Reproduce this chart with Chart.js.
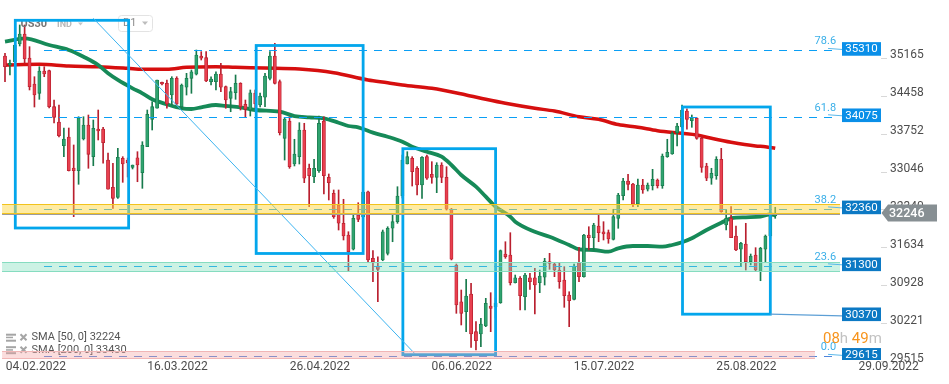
<!DOCTYPE html>
<html>
<head>
<meta charset="utf-8">
<title>US30 D1</title>
<script src="https://cdn.jsdelivr.net/npm/chart.js@4.4.0/dist/chart.umd.min.js"></script>
<style>
  html, body { margin: 0; padding: 0; background: #fff; }
  #wrap { width: 949px; height: 384px; }
</style>
</head>
<body>
<div id="wrap"><canvas id="chart" width="949" height="384"></canvas></div>
<script>
// daily candles of US30, oldest first
const opens = [35206,35039,35095,35430,35616,35169,34685,34512,34927,34933,34263,33978,33537,33699,33121,33071,33661,33922,33332,33847,33847,33270,32762,32576,33302,33270,33134,33313,33034,33518,34028,34233,34717,34698,34480,34791,34263,34624,34791,34866,35206,35175,34728,34728,34871,34635,34419,34523,34698,34307,34201,34518,34294,34438,34791,35206,34728,33674,33996,33196,33332,33829,33116,32959,33071,33996,32948,32650,32433,32092,31874,31608,32246,32209,32680,31440,31297,31409,31533,31999,32122,32600,33196,33302,33116,32805,33332,33004,32948,33177,32948,32353,31316,30632,30446,30776,30074,30031,30180,30552,30534,30614,31520,31502,30986,31068,30725,31079,31079,30986,31087,31377,31334,31222,31036,30757,30677,31358,31098,31874,31824,32042,31935,31917,31794,32185,32606,32879,32824,32451,32805,32725,32792,32898,32792,33332,33382,33779,33885,34182,34002,34047,33674,33159,32930,32978,33283,32060,32185,31855,31608,31706,31377,31502,31191,31608,31855,32228];
const highs = [35257,35132,35467,35784,35784,35380,34821,35007,35007,34946,34387,34294,33866,33866,33550,34076,34076,34108,34015,34201,33879,33401,33209,33488,33332,33307,33177,33425,33611,34201,34356,34760,34722,34760,34821,34821,34685,34884,34946,35318,35287,35287,34821,34914,35071,34648,34624,34853,34709,34387,34574,34574,34518,34884,35287,35443,34760,34065,34076,33656,33965,33954,33196,33283,34089,34076,33010,32712,32712,32539,31935,32278,32475,32712,32693,31582,31470,31967,32028,32246,32773,33363,33425,33332,33146,33332,33363,33239,33220,33220,33146,32371,31334,30850,31049,30975,30260,30323,30695,30800,30701,31595,31749,31917,31129,31098,31161,31161,31254,31222,31440,31533,31358,31347,31284,30818,31334,31645,31887,32028,32092,32246,32122,31967,32353,32650,32930,33004,32837,32917,32911,32842,33097,32917,33382,33656,33797,33954,34294,34225,34108,34058,33704,33209,33116,33332,33488,32339,32401,32042,31738,32092,31520,31638,31645,31874,32302,32390];
const lows = [34728,34853,35020,35393,35076,34574,34257,34400,34821,34238,33959,33699,33332,33066,32215,32818,33643,33116,33164,33643,33209,32725,32371,32557,32855,32954,33103,32866,32743,33518,33829,34233,34667,34233,34294,34294,34214,34480,34512,34853,35132,34728,34667,34574,34542,34233,34169,34400,34201,34065,34089,34238,34257,34263,34760,34685,33736,33270,33116,33159,33196,32848,32401,32848,33041,32637,32526,32185,31967,31781,31191,31595,32122,32116,31377,31005,30632,31395,31502,31749,32092,32563,33196,32786,32619,32557,32911,32837,32662,32848,32339,31409,30416,30199,30074,29783,29733,29794,30167,30074,30329,30602,31440,30943,30980,30478,30478,30863,30403,30800,30943,31235,31098,30882,30528,30167,30664,31005,31087,31595,31595,31749,31781,31720,31781,31999,32526,32712,32401,32401,32650,32693,32712,32749,32743,33320,33376,33531,33866,33842,33879,33656,33041,32885,32818,32911,32297,31967,31824,31582,31284,31222,31316,31191,31023,31377,31818,32185];
const closes = [35007,35071,35411,35616,35151,34635,34480,34927,34871,34263,34065,33723,33661,33071,33071,34058,33922,33376,33860,33810,33592,32725,32557,33320,33196,33214,33177,33177,33550,34121,34263,34760,34685,34313,34791,34313,34667,34791,34914,35225,35164,34741,34778,34871,34624,34387,34542,34698,34263,34214,34523,34313,34462,34834,35206,34698,33779,34034,33146,33382,33829,32930,32978,33116,33954,32978,32848,32215,32092,31855,31563,32185,32166,32675,31409,31377,31235,31935,31999,32122,32600,33270,33332,33052,32805,33320,32930,32948,33177,32948,32353,31422,30571,30416,30738,30031,29906,30217,30602,30509,30608,31582,31470,30986,31079,30744,31129,31005,30943,31111,31390,31347,31222,31005,30744,30651,31297,31098,31874,31824,32060,31917,31893,31800,32215,32619,32879,32818,32446,32805,32712,32805,32911,32792,33345,33414,33767,33903,34201,34028,34058,33674,33134,32930,33023,33283,32308,32185,31824,31595,31720,31377,31483,31222,31626,31855,32228,32246];

// moving averages, read at selected candles
const sma50Idx = [0,4,9,13,16,19,21,23,26,28,30,33,36,38,40,43,45,48,51,56,59,62,65,68,70,72,75,78,81,83,86,89,91,93,96,98,100,103,104,108,111,115,117,120,123,125,128,131,134,136,138,140,143,146,148,151,154,156,157];
const sma50Val = [35473,35536,35411,35318,35193,35039,34884,34760,34605,34512,34400,34307,34233,34220,34251,34294,34276,34251,34201,34169,34089,34065,34047,33965,33903,33879,33779,33704,33611,33518,33425,33332,33177,32991,32773,32587,32401,32215,32122,31935,31842,31688,31608,31595,31563,31626,31669,31669,31656,31688,31738,31813,31967,32103,32185,32204,32215,32259,32240];
const sma200Idx = [0,7,13,19,25,28,33,37,43,47,53,60,67,74,78,81,87,94,98,102,108,112,117,121,125,129,133,138,141,144,148,153,155,157];
const sma200Val = [35039,35052,35020,35007,34977,34959,34959,34996,35007,34996,34983,34964,34895,34760,34709,34667,34605,34480,34400,34326,34233,34182,34076,34028,33930,33879,33816,33767,33736,33674,33600,33531,33518,33488];
const smaPeriods = [50, 200];
const smaLast = [32224, 33430];

// axis ticks
const dateIdx = [6.28, 35.16, 64.2, 93.1, 122.1, 151.1, 180.1];
const dateLabels = ['04.02.2022','16.03.2022','26.04.2022','06.06.2022','15.07.2022','25.08.2022','29.09.2022'];
const priceTicks = [35165, 34458, 33752, 33046, 32340, 31634, 30928, 30221, 29515];

// drawings on the chart (candle index / price)
const fibLevels = [35310, 34075, 32360, 31300, 29615];
const fibRatios = ['78.6', '61.8', '38.2', '23.6', '0.0'];
const tagLevels = [35310, 34075, 32360, 31300, 30370, 29615];
const zoneLo = [32290, 31210, 29590];
const zoneHi = [32450, 31370, 29715];
const zoneEnd = [170.2, 170.2, 165.1];
const boxFrom = [2.1, 51.2, 81.1, 138.1];
const boxTo = [25.2, 73.0, 100.0, 156.0];
const boxHigh = [35871, 35402, 33481, 34257];
const boxLow = [32004, 31530, 29646, 30400];
const trendFrom = [18.0, 35908];
const trendTo = [83.6, 29659];
const lastPrice = 32246;

const UP = '#2fa36f', UP_EDGE = '#177a4c', DOWN = '#e8404f', DOWN_EDGE = '#b91f2e';

const idx = opens.map((_, i) => i);
const up = idx.map(i => closes[i] >= opens[i]);

function tri(ctx, x, y, w, color) {
  ctx.fillStyle = color;
  ctx.beginPath();
  ctx.moveTo(x, y);
  ctx.lineTo(x + w, y);
  ctx.lineTo(x + w / 2, y + w * 0.6);
  ctx.closePath();
  ctx.fill();
}

const overlay = {
  id: 'overlay',
  afterDatasetsDraw(chart) {
    const { ctx, chartArea: a, scales: { x, y } } = chart;
    const px = v => x.getPixelForValue(v);
    const py = v => y.getPixelForValue(v);

    ctx.save();
    ctx.beginPath();
    ctx.rect(a.left, a.top, a.right - a.left, a.bottom - a.top);
    ctx.clip();
    ctx.textBaseline = 'middle';
    ctx.textAlign = 'left';

    // symbol header
    ctx.font = 'bold 11px Roboto';
    ctx.fillStyle = '#767676';
    ctx.fillText('US30', 20.5, 24);
    ctx.font = 'bold 9px Roboto';
    ctx.fillStyle = '#b8b8b8';
    ctx.fillText('IND', 57, 24.5);
    tri(ctx, 78, 22.5, 5, '#c6c6c6');
    ctx.strokeStyle = '#e3e3e3';
    ctx.lineWidth = 1;
    ctx.beginPath();
    ctx.roundRect(118.5, 15.5, 34, 16, 3);
    ctx.stroke();
    ctx.font = '11px Roboto';
    ctx.fillStyle = '#8c8c8c';
    ctx.fillText('D1', 123, 23.5);
    tri(ctx, 142, 21.5, 6, '#bdbdbd');

    // indicator legend
    smaPeriods.forEach((p, k) => {
      const yc = 337.7 + k * 12.5;
      ctx.fillStyle = '#a5a5a5';
      ctx.fillRect(6, yc - 4, 10, 2);
      ctx.fillRect(6, yc - 1, 7, 1.5);
      ctx.fillRect(6, yc + 2, 10, 2);
      ctx.strokeStyle = '#a5a5a5';
      ctx.lineWidth = 2;
      ctx.beginPath();
      ctx.moveTo(20.5, yc - 3.5); ctx.lineTo(26.5, yc + 2.5);
      ctx.moveTo(26.5, yc - 3.5); ctx.lineTo(20.5, yc + 2.5);
      ctx.stroke();
      ctx.fillStyle = '#555';
      ctx.font = '11px Roboto';
      ctx.fillText('SMA [' + p + ', 0] ' + smaLast[k], 31.5, yc);
    });

    // rectangles
    ctx.strokeStyle = '#03a6ec';
    ctx.lineWidth = 2.8;
    boxFrom.forEach((b, k) => {
      const x0 = px(b), x1 = px(boxTo[k]), y0 = py(boxHigh[k]), y1 = py(boxLow[k]);
      ctx.strokeRect(x0, y0, x1 - x0, y1 - y0);
    });

    // trend line
    ctx.strokeStyle = '#3db4f0';
    ctx.lineWidth = 1;
    ctx.beginPath();
    ctx.moveTo(px(trendFrom[0]), py(trendFrom[1]));
    ctx.lineTo(px(trendTo[0]), py(trendTo[1]));
    ctx.stroke();

    // fibonacci levels, dashes as filled segments
    const fx0 = px(7.95), fx1 = px(169.4);
    fibLevels.forEach((lv, k) => {
      ctx.fillStyle = k === 4 ? '#4f86dc' : '#0a9ff5';
      const yy = Math.round(py(lv));
      for (let d = Math.round(fx0); d < fx1; d += 15) {
        ctx.fillRect(d, yy, Math.min(8, fx1 - d), 1);
      }
    });

    // zones
    const fills = ['rgba(253,216,70,0.5)', 'rgba(120,222,185,0.38)', 'rgba(244,160,160,0.36)'];
    const edges = ['#f2c31c', '#86dcc0', '#f1b6b6'];
    zoneLo.forEach((lo, k) => {
      const x0 = px(-0.6), x1 = px(zoneEnd[k]);
      const y0 = Math.round(py(zoneHi[k])) + 0.5, y1 = Math.round(py(lo)) + 0.5;
      ctx.fillStyle = fills[k];
      ctx.fillRect(x0, y0, x1 - x0, y1 - y0);
      ctx.strokeStyle = edges[k];
      ctx.lineWidth = 1;
      ctx.beginPath();
      ctx.moveTo(x0, y0); ctx.lineTo(x1, y0);
      ctx.moveTo(x0, y1); ctx.lineTo(x1, y1);
      ctx.stroke();
      if (k === 0) {
        ctx.strokeStyle = '#9c9c9c';
        ctx.beginPath();
        ctx.moveTo(x0, y1 + 1); ctx.lineTo(x1, y1 + 1);
        ctx.stroke();
      }
    });

    // fib ratio labels
    ctx.font = '11px Roboto';
    ctx.textAlign = 'right';
    ctx.fillStyle = '#3aafe8';
    fibLevels.forEach((lv, k) => {
      ctx.fillText(fibRatios[k], fx1, py(lv) - 9);
      ctx.strokeStyle = '#5ab8ea';
      ctx.lineWidth = 1;
      ctx.beginPath();
      ctx.moveTo(fx1 - 8, py(lv) - 2);
      ctx.lineTo(a.right - 39, py(lv) - 1);
      ctx.stroke();
    });

    // connector from last box to its price tag
    ctx.strokeStyle = '#5d9fd5';
    ctx.lineWidth = 1.2;
    ctx.beginPath();
    ctx.moveTo(px(boxTo[3]), py(boxLow[3]));
    ctx.lineTo(a.right - 39, py(tagLevels[4]));
    ctx.stroke();

    // price tags
    ctx.textAlign = 'center';
    ctx.font = '11.5px Roboto';
    tagLevels.forEach((lv, k) => {
      const yc = py(lv) - 1.5;
      ctx.fillStyle = k < 2 ? '#0a8fe8' : '#0c79c4';
      ctx.fillRect(a.right - 39, yc - 6.8, 39, 13.6);
      ctx.fillStyle = '#fff';
      ctx.fillText(String(lv), a.right - 19.5, yc + 0.5);
    });

    // candle countdown
    ctx.textAlign = 'left';
    ctx.font = '15px Roboto';
    let tx = 823;
    [['08', '#f7941d'], ['h', '#c2c2c2'], [' 49', '#f7941d'], ['m', '#c2c2c2']].forEach(([s, c]) => {
      ctx.fillStyle = c;
      ctx.fillText(s, tx, 339.5);
      tx += ctx.measureText(s).width;
    });
    ctx.restore();

    // last price tag on the axis
    const ly = py(lastPrice);
    ctx.save();
    ctx.fillStyle = '#878f93';
    ctx.beginPath();
    ctx.moveTo(a.right + 0.5, ly - 2);
    ctx.lineTo(a.right + 7, ly - 10.5);
    ctx.lineTo(937, ly - 10.5);
    ctx.lineTo(937, ly + 6.5);
    ctx.lineTo(a.right + 7, ly + 6.5);
    ctx.closePath();
    ctx.fill();
    ctx.fillStyle = '#fff';
    ctx.font = '500 12.5px Roboto';
    ctx.textBaseline = 'middle';
    ctx.textAlign = 'left';
    ctx.fillText(String(lastPrice), 889, ly - 1.5);
    ctx.restore();
  }
};

new Chart(document.getElementById('chart'), {
  type: 'bar',
  data: {
    datasets: [
      {
        type: 'line',
        data: sma200Idx.map((v, k) => ({ x: v, y: sma200Val[k] })),
        borderColor: '#d60f0f',
        borderWidth: 3.5,
        pointRadius: 0,
        cubicInterpolationMode: 'monotone',
        fill: false,
        order: 4
      },
      {
        type: 'line',
        data: sma50Idx.map((v, k) => ({ x: v, y: sma50Val[k] })),
        borderColor: '#168a58',
        borderWidth: 3.8,
        pointRadius: 0,
        cubicInterpolationMode: 'monotone',
        fill: false,
        order: 3
      },
      {
        data: idx.map(i => ({ x: i, y: [lows[i], highs[i]] })),
        backgroundColor: idx.map(i => up[i] ? UP_EDGE : DOWN_EDGE),
        barThickness: 1,
        grouped: false,
        order: 2
      },
      {
        data: idx.map(i => ({ x: i, y: [opens[i], closes[i]] })),
        backgroundColor: idx.map(i => up[i] ? UP : DOWN),
        borderColor: idx.map(i => up[i] ? UP_EDGE : DOWN_EDGE),
        borderWidth: 0.8,
        borderSkipped: false,
        barThickness: 3.2,
        minBarLength: 1.5,
        grouped: false,
        order: 1
      }
    ]
  },
  options: {
    responsive: false,
    animation: false,
    events: [],
    layout: { padding: 0 },
    plugins: { legend: { display: false }, tooltip: { enabled: false } },
    scales: {
      x: {
        type: 'linear',
        min: -1.019,
        max: 178.56,
        offset: false,
        grid: { display: false, drawTicks: false, offset: false },
        border: { display: false },
        afterBuildTicks: s => { s.ticks = dateIdx.map(v => ({ value: v })); },
        afterFit: s => { s.height = 24; s.paddingLeft = 0; s.paddingRight = 0; },
        ticks: {
          autoSkip: false,
          maxRotation: 0,
          padding: 0,
          color: '#4d4d4d',
          font: { family: 'Roboto', size: 12 },
          callback: (v, i) => dateLabels[i]
        }
      },
      y: {
        type: 'linear',
        position: 'right',
        min: 29547,
        max: 36249,
        beginAtZero: false,
        grid: { drawOnChartArea: false, drawTicks: true, tickLength: 6, color: '#d8d8d8' },
        border: { display: false },
        afterBuildTicks: s => { s.ticks = priceTicks.map(v => ({ value: v })); },
        afterFit: s => { s.width = 68; s.paddingTop = 0; s.paddingBottom = 0; },
        ticks: {
          autoSkip: false,
          padding: 3,
          labelOffset: -3,
          color: '#4d4d4d',
          font: { family: 'Roboto', size: 12 },
          callback: v => String(v)
        }
      }
    }
  },
  plugins: [overlay]
});
</script>
</body>
</html>
